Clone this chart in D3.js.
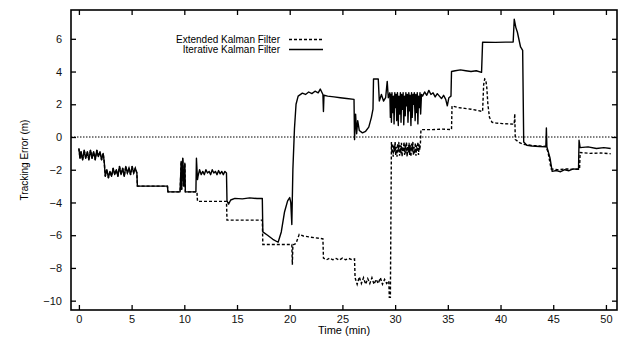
<!DOCTYPE html>
<html>
<head>
<meta charset="utf-8">
<script src="https://cdn.jsdelivr.net/npm/d3@7"></script>
<style>
  body { margin: 0; background: #fff; }
  svg { font-family: "Liberation Sans", Arial, sans-serif; }
  .axis path { display: none; }
  .axis line { stroke: #000; stroke-width: 1.3; }
  .axis text { font-size: 11px; fill: #111; }
</style>
</head>
<body>
<div id="chart"></div>
<script>
// [time (min), error (m)] -- both filters agree until ~11.3 min
const sharedStart = [[0,-0.7],[0.1,-1.3],[0.2,-0.9],[0.35,-1.4],[0.5,-0.8],[0.65,-1.3],[0.8,-0.9],[0.95,-1.4],
  [1.1,-0.8],[1.25,-1.3],[1.4,-0.9],[1.55,-1.4],[1.7,-0.8],[1.85,-1.2],[2.0,-0.9],[2.15,-1.4],[2.3,-1.0],
  [2.4,-1.5],[2.5,-2.4],[2.65,-2.0],[2.8,-2.5],[2.95,-2.1],[3.1,-2.4],[3.25,-1.9],[3.4,-2.3],[3.55,-2.0],
  [3.7,-2.4],[3.85,-1.8],[4.0,-2.3],[4.15,-1.9],[4.3,-2.4],[4.45,-1.8],[4.6,-2.2],[4.75,-1.9],[4.9,-2.3],
  [5.05,-1.8],[5.2,-2.2],[5.35,-1.9],[5.5,-2.2],[5.55,-3.0],[8.4,-3.0],[8.45,-3.35],[9.6,-3.35],[9.7,-1.5],
  [9.75,-3.2],[9.85,-1.3],[9.95,-3.0],[10.05,-1.6],[10.1,-3.35],[11.1,-3.35]];

const ekfRest = [[11.2,-3.35],[11.25,-3.93],[14.0,-3.93],[14.05,-5.08],[17.4,-5.08],[17.45,-6.57],[20.2,-6.57],
  [20.25,-7.8],[20.3,-6.6],[20.6,-6.5],[20.9,-5.95],[21.3,-6.05],[21.8,-6.1],[22.3,-6.15],[23.15,-6.22],
  [23.2,-7.4],[23.5,-7.5],[23.8,-7.4],[24.1,-7.5],[24.4,-7.42],[24.7,-7.52],[25.0,-7.4],[25.3,-7.5],
  [25.6,-7.42],[25.9,-7.5],[26.15,-7.45],[26.2,-8.6],[26.4,-9.0],[26.6,-8.55],[26.8,-8.95],[27.0,-8.6],
  [27.2,-9.0],[27.4,-8.65],[27.6,-8.95],[27.8,-8.6],[28.0,-9.0],[28.2,-8.7],[28.4,-8.95],[28.6,-8.6],
  [28.8,-9.0],[29.0,-8.7],[29.2,-8.95],[29.4,-8.8],[29.45,-9.8],[29.55,-9.8],[29.65,-0.3],[29.7,-1.0],
  [29.76,-0.4],[29.82,-1.2],[29.88,-0.5],[29.94,-0.9],[30.0,-0.3],[30.06,-1.1],[30.12,-0.6],[30.18,-1.2],
  [30.24,-0.4],[30.3,-0.9],[30.36,-0.3],[30.42,-1.15],[30.48,-0.5],[30.54,-1.0],[30.6,-0.35],[30.66,-1.2],
  [30.72,-0.6],[30.78,-0.9],[30.84,-0.3],[30.9,-1.1],[30.96,-0.45],[31.02,-1.0],[31.08,-0.3],[31.14,-1.2],
  [31.2,-0.55],[31.26,-0.95],[31.32,-0.35],[31.38,-1.1],[31.44,-0.5],[31.5,-1.2],[31.56,-0.4],[31.62,-0.9],
  [31.68,-0.3],[31.74,-1.1],[31.8,-0.6],[31.86,-1.0],[31.92,-0.35],[31.98,-1.15],[32.04,-0.5],[32.1,-0.9],
  [32.16,-0.3],[32.22,-1.1],[32.28,-0.45],[32.34,-0.8],[32.4,-0.4],[32.45,0.45],[33.5,0.45],[34.5,0.48],
  [35.35,0.45],[35.4,1.9],[36.0,1.8],[36.6,1.75],[37.2,1.7],[37.8,1.62],[38.3,1.56],[38.4,3.2],[38.5,3.55],
  [38.6,3.5],[38.7,3.0],[38.8,2.0],[38.95,1.2],[39.2,0.9],[39.6,0.85],[40.2,0.82],[40.8,0.8],[41.3,0.78],
  [41.35,1.42],[41.4,-0.15],[41.8,-0.35],[42.2,-0.45],[43.0,-0.52],[44.3,-0.57],[44.5,-0.9],[44.8,-1.95],
  [45.4,-2.0],[46.2,-1.95],[47.0,-1.98],[47.5,-1.95],[47.55,-0.95],[48.5,-1.0],[49.5,-0.98],[50.45,-1.02]];

const ikfRest = [[11.15,-1.3],[11.25,-2.6],[11.3,-2.4],[11.45,-2.0],[11.6,-2.3],[11.75,-2.1],[11.9,-2.3],
  [12.05,-2.0],[12.2,-2.2],[12.35,-2.1],[12.5,-2.3],[12.65,-2.0],[12.8,-2.2],[12.95,-2.1],[13.1,-2.3],
  [13.25,-2.05],[13.4,-2.25],[13.55,-2.1],[13.7,-2.3],[13.85,-2.1],[14.0,-2.2],[14.05,-3.9],[14.2,-4.1],
  [14.4,-3.85],[14.8,-3.75],[15.5,-3.78],[16.2,-3.72],[16.9,-3.76],[17.4,-3.75],[17.45,-5.8],[17.9,-6.0],
  [18.4,-6.25],[18.9,-6.43],[19.2,-5.8],[19.5,-4.6],[19.8,-3.9],[20.0,-3.7],[20.1,-4.0],[20.2,-5.35],
  [20.3,-2.0],[20.45,0.5],[20.6,2.0],[20.8,2.5],[21.2,2.68],[21.5,2.6],[21.8,2.75],[22.1,2.65],[22.4,2.8],
  [22.7,2.7],[22.9,2.93],[23.15,2.6],[23.2,1.56],[23.25,2.55],[23.6,2.5],[24.2,2.45],[24.8,2.4],[25.4,2.35],
  [26.1,2.3],[26.15,-0.16],[26.25,1.4],[26.35,0.2],[26.45,1.0],[26.6,0.4],[26.9,0.25],[27.2,0.35],
  [27.5,0.6],[27.75,1.2],[27.9,1.7],[27.95,3.54],[28.4,3.54],[28.5,2.2],[28.7,2.6],[28.9,2.2],[29.1,2.4],
  [29.25,3.4],[29.35,2.4],[29.5,2.7],[29.55,1.2],[29.6,2.6],[29.65,0.9],[29.7,2.7],[29.78,1.5],[29.85,2.5],
  [29.9,0.8],[29.97,2.7],[30.05,1.8],[30.1,2.6],[30.15,1.0],[30.22,2.7],[30.3,0.7],[30.36,2.5],[30.42,1.4],
  [30.5,2.7],[30.56,0.9],[30.62,2.6],[30.7,1.7],[30.76,2.7],[30.82,0.75],[30.9,2.5],[30.96,1.3],[31.02,2.7],
  [31.1,1.9],[31.16,2.6],[31.22,0.9],[31.3,2.7],[31.36,1.6],[31.42,2.55],[31.5,0.7],[31.56,2.7],[31.62,1.2],
  [31.7,2.6],[31.76,2.0],[31.82,2.7],[31.9,1.0],[31.96,2.6],[32.02,1.5],[32.1,2.7],[32.16,0.8],[32.22,2.5],
  [32.3,1.8],[32.36,2.7],[32.42,1.4],[32.5,2.6],[32.6,2.5],[32.8,2.75],[33.0,2.55],[33.2,2.85],[33.4,2.6],
  [33.6,2.7],[33.8,2.45],[34.0,2.65],[34.2,2.5],[34.4,2.35],[34.6,2.55],[34.8,2.3],[34.95,1.9],[35.1,2.4],
  [35.3,2.5],[35.35,4.0],[35.7,4.05],[36.2,4.1],[36.7,4.05],[37.2,4.0],[37.7,4.05],[38.2,3.95],[38.3,5.8],
  [39.5,5.78],[40.5,5.8],[41.2,5.8],[41.3,7.2],[41.45,6.7],[41.6,6.4],[41.9,5.5],[42.1,5.3],[42.2,-0.3],
  [42.5,-0.5],[43.0,-0.55],[43.7,-0.58],[44.3,-0.6],[44.35,0.55],[44.4,-0.6],[44.7,-1.3],[44.9,-2.1],
  [45.3,-2.05],[45.7,-2.12],[46.1,-2.0],[46.5,-2.06],[46.9,-1.95],[47.4,-1.98],[47.45,-0.2],[47.55,-0.65],
  [48.3,-0.6],[49.1,-0.7],[49.8,-0.65],[50.45,-0.7]];

const xTicks = [0, 5, 10, 15, 20, 25, 30, 35, 40, 45, 50];
const yTicks = [-10, -8, -6, -4, -2, 0, 2, 4, 6];
const seriesNames = ['Extended Kalman Filter', 'Iterative Kalman Filter'];

const ekf = sharedStart.concat(ekfRest);
const ikf = sharedStart.concat(ikfRest);

const W = 626, H = 339;
const margin = {t: 10, r: 9, b: 29, l: 71};
const w = W - margin.l - margin.r;
const h = H - margin.t - margin.b;

const svg = d3.select('#chart').append('svg')
  .attr('width', W).attr('height', H);

const plot = svg.append('g')
  .attr('transform', `translate(${margin.l},${margin.t})`);

const scaleX = d3.scaleLinear().domain([-0.75, 51.05]).range([0, w]);
const scaleY = d3.scaleLinear().domain([-10.57, 7.76]).range([h, 0]);

// axes, ticks pointing inward, mirrored on top/right
plot.append('g').attr('class', 'axis axis-x')
  .attr('transform', `translate(0,${h})`)
  .call(d3.axisBottom(scaleX).tickValues(xTicks).tickSize(-5).tickPadding(5));
plot.append('g').attr('class', 'axis axis-top')
  .call(d3.axisTop(scaleX).tickValues(xTicks).tickSize(-5).tickFormat(''));
plot.append('g').attr('class', 'axis axis-y')
  .call(d3.axisLeft(scaleY).tickValues(yTicks).tickSize(-5).tickPadding(9));
plot.append('g').attr('class', 'axis axis-right')
  .attr('transform', `translate(${w},0)`)
  .call(d3.axisRight(scaleY).tickValues(yTicks).tickSize(-5).tickFormat(''));

plot.append('rect')
  .attr('width', w).attr('height', h)
  .attr('fill', 'none').attr('stroke', '#000').attr('stroke-width', 1.6);

// zero line
plot.append('line')
  .attr('x1', 0).attr('x2', w)
  .attr('y1', scaleY(0)).attr('y2', scaleY(0))
  .attr('stroke', '#000').attr('stroke-width', 1)
  .attr('stroke-dasharray', '1.5,1.5');

const line = d3.line()
  .x(d => scaleX(d[0]))
  .y(d => scaleY(d[1]));

plot.append('path').datum(ekf)
  .attr('d', line)
  .attr('fill', 'none').attr('stroke', '#000')
  .attr('stroke-width', 1.4).attr('stroke-dasharray', '3,2');

plot.append('path').datum(ikf)
  .attr('d', line)
  .attr('fill', 'none').attr('stroke', '#000')
  .attr('stroke-width', 1.4).attr('stroke-linejoin', 'round');

// legend
const legend = svg.append('g');
seriesNames.forEach((name, i) => {
  const y = 39.5 + i * 10;
  legend.append('text')
    .attr('x', 280).attr('y', y + 3.5)
    .attr('text-anchor', 'end')
    .attr('font-size', 10)
    .text(name);
  legend.append('line')
    .attr('x1', 289).attr('x2', 323)
    .attr('y1', y).attr('y2', y)
    .attr('stroke', '#000').attr('stroke-width', 1.3)
    .attr('stroke-dasharray', i === 0 ? '3,2' : null);
});

svg.append('text')
  .attr('x', margin.l + w / 2).attr('y', 334)
  .attr('text-anchor', 'middle').attr('font-size', 11)
  .text('Time  (min)');

svg.append('text')
  .attr('transform', `translate(28,${margin.t + h / 2}) rotate(-90)`)
  .attr('text-anchor', 'middle').attr('font-size', 10)
  .text('Tracking Error  (m)');
</script>
</body>
</html>
